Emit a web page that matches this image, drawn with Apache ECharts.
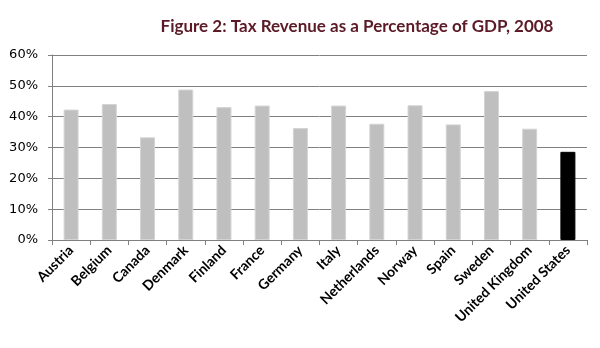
<!DOCTYPE html>
<html>
<head>
<meta charset="utf-8">
<script src="https://cdn.jsdelivr.net/npm/echarts@6/dist/echarts.min.js"></script>
<style>
  html, body { margin: 0; padding: 0; background: #fff; }
  #chart { width: 600px; height: 348px; }
</style>
</head>
<body>
<div id="chart"></div>
<script>
// Countries shown along the x axis
const countries = ['Austria', 'Belgium', 'Canada', 'Denmark', 'Finland', 'France', 'Germany',
  'Italy', 'Netherlands', 'Norway', 'Spain', 'Sweden', 'United Kingdom', 'United States'];
// Tax revenue as a share of GDP (%)
const taxShare = [42.3, 44.1, 33.3, 48.8, 43.1, 43.6, 36.3, 43.6, 37.7, 43.7, 37.5, 48.3, 36.1, 28.6];
// Y-axis tick values (%)
const yTicks = [0, 10, 20, 30, 40, 50, 60];
const highlight = 'United States';

const chart = echarts.init(document.getElementById('chart'), null, { renderer: 'canvas' });
chart.setOption({
  animation: false,
  title: {
    text: 'Figure 2: Tax Revenue as a Percentage of GDP, 2008',
    left: 352, textAlign: 'center', top: 13,
    textStyle: { fontFamily: 'Lato', fontWeight: 'bold', fontSize: 17, color: '#5b1a25' }
  },
  grid: { left: 52, right: 13, top: 55, bottom: 108 },
  xAxis: {
    type: 'category',
    data: countries,
    axisLine: { lineStyle: { color: '#808080', width: 1 } },
    axisTick: { show: true, length: 5, lineStyle: { color: '#808080' } },
    axisLabel: {
      rotate: 45, interval: 0, margin: 8,
      fontFamily: 'Lato', fontWeight: 'bold', fontSize: 14, color: '#000'
    }
  },
  yAxis: {
    type: 'value',
    min: yTicks[0], max: yTicks[yTicks.length - 1], interval: 10,
    axisLine: { show: true, lineStyle: { color: '#808080', width: 1 } },
    axisTick: { show: true, length: 4, lineStyle: { color: '#808080' } },
    splitLine: { lineStyle: { color: '#808080', width: 1 } },
    axisLabel: {
      formatter: v => v + '%', margin: 14,
      fontFamily: 'DejaVu Sans', fontSize: 13, color: '#000'
    }
  },
  series: [{
    type: 'bar',
    barWidth: 15,
    data: taxShare.map((v, i) => ({
      value: v,
      itemStyle: {
        color: countries[i] === highlight ? '#000' : '#bfbfbf',
        borderColor: countries[i] === highlight ? '#000' : '#d4d4d4',
        borderWidth: 1
      }
    }))
  }]
});
</script>
</body>
</html>
